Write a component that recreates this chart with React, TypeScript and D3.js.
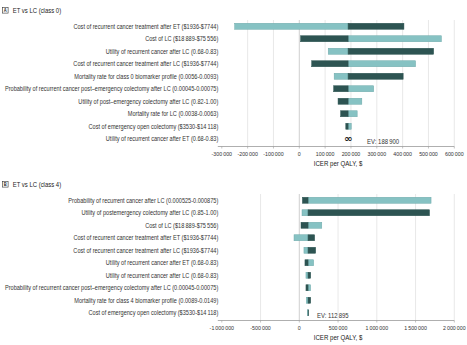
import { scaleBand, scaleLinear } from "d3";

// panel A: ET vs LC (class 0)
const labelsA = [
  "Cost of recurrent cancer treatment after ET ($1936-$7744)",
  "Cost of LC ($18\u2009889-$75\u2009556)",
  "Utility of recurrent cancer after LC (0.68-0.83)",
  "Cost of recurrent cancer treatment after LC ($1936-$7744)",
  "Mortality rate for class 0 biomarker profile (0.0056-0.0093)",
  "Probability of recurrent cancer post\u2013emergency colectomy after LC (0.00045-0.00075)",
  "Utility of post\u2013emergency colectomy after LC (0.82-1.00)",
  "Mortality rate for LC (0.0038-0.0063)",
  "Cost of emergency open colectomy ($3530-$14\u2009118)",
  "Utility of recurrent cancer after ET (0.68-0.83)",
];
// null = unbounded ICER, drawn as ∞
const lightA = [-250000, 550000, 112000, 450000, 135000, 288000, 242000, 224000, 201000, null];
const darkA = [405000, 5000, 520000, 48000, 402000, 133000, 150000, 160000, 180000, null];
const ticksA = [-300000, -200000, -100000, 0, 100000, 200000, 300000, 400000, 500000, 600000];
const evA = 188900;

// panel B: ET vs LC (class 4)
const labelsB = [
  "Probability of recurrent cancer after LC (0.000525-0.000875)",
  "Utility of postemergency colectomy after LC (0.85-1.00)",
  "Cost of LC ($18\u2009889-$75\u2009556)",
  "Cost of recurrent cancer treatment after ET ($1936-$7744)",
  "Cost of recurrent cancer treatment after LC ($1936-$7744)",
  "Utility of recurrent cancer after ET (0.68-0.83)",
  "Utility of recurrent cancer after LC (0.68-0.83)",
  "Probability of recurrent cancer post\u2013emergency colectomy after LC (0.00045-0.00075)",
  "Mortality rate for class 4 biomarker profile (0.0089-0.0149)",
  "Cost of emergency open colectomy ($3530-$14\u2009118)",
];
const lightB = [1700000, 35000, 290000, -68000, 60000, 185000, 86000, 146000, 90000, 105000];
const darkB = [40000, 1680000, 22000, 198000, 211000, 73000, 147000, 86000, 147000, 121000];
const ticksB = [-1000000, -500000, 0, 500000, 1000000, 1500000, 2000000];
const evB = 112895;

const LIGHT = "#86c2c3";
const LIGHT_STROKE = "#6ea9aa";
const DARK = "#2d5452";
const FONT = "'Liberation Sans', Arial, sans-serif";
const SQUEEZE = 0.85; // the source uses a condensed face; squeeze horizontally

// group digits with thin spaces, JAMA style (only for 5+ digits)
const fmt = (v: number) => {
  const s = Math.abs(v).toString();
  const g = s.length >= 5 ? s.replace(/\B(?=(\d{3})+(?!\d))/g, "\u2009") : s;
  return (v < 0 ? "-" : "") + g;
};

// condensed text helper
const T = ({ x, y, size, anchor = "start", weight = "normal", fill = "#333", children }: any) => (
  <text
    transform={`translate(${x},${y}) scale(${SQUEEZE},1)`}
    fontSize={size}
    fontWeight={weight}
    textAnchor={anchor}
    dominantBaseline="central"
    fontFamily={FONT}
    fill={fill}
  >
    {children}
  </text>
);

const Panel = ({ letter, title, top, labels, light, dark, ticks, ev, evDx }: any) => {
  const x0 = 221.8, x1 = 454.3;
  const rowTop = top + 20;
  const rowBottom = rowTop + 125;
  const axisY = rowBottom + 1.5;

  const x = scaleLinear().domain([ticks[0], ticks[ticks.length - 1]]).range([x0, x1]);
  const y = scaleBand<string>()
    .domain(labels)
    .range([rowTop, rowBottom])
    .paddingInner(0.52)
    .paddingOuter(0.26);
  const bw = y.bandwidth();

  return (
    <g>
      {/* panel heading */}
      <rect x={2.3} y={top + 7.3} width={5.8} height={5.8} fill="white" stroke="#333" strokeWidth={0.6} />
      <T x={5.2} y={top + 10.3} size={4.8} weight="bold" anchor="middle" fill="#222">{letter}</T>
      <T x={12.7} y={top + 10.6} size={7} fill="#222">{title}</T>

      {/* grid */}
      {ticks.slice(1).map((t: number) => (
        <line key={t} x1={x(t)} x2={x(t)} y1={rowTop} y2={axisY} stroke={t === 0 ? "#c4c4c4" : "#e2e2e2"} strokeWidth={0.8} />
      ))}
      <line x1={x0 - 4} x2={x1} y1={axisY} y2={axisY} stroke="#9a9a9a" strokeWidth={0.8} />
      {ticks.map((t: number) => (
        <g key={t}>
          <line x1={x(t)} x2={x(t)} y1={axisY} y2={axisY + 2} stroke="#9a9a9a" strokeWidth={0.6} />
          <T x={x(t)} y={axisY + 7} size={6.2} anchor="middle">{fmt(t)}</T>
        </g>
      ))}
      <T x={(x0 + x1) / 2} y={axisY + 17} size={7.2} anchor="middle" fill="#222">ICER per QALY, $</T>

      {/* category labels */}
      {labels.map((l: string) => (
        <T key={l} x={218.3} y={(y(l) as number) + bw / 2} size={6.6} anchor="end">{l}</T>
      ))}

      {/* bars */}
      {labels.map((l: string, i: number) => {
        const yy = y(l) as number;
        if (light[i] === null) {
          return (
            <text key={l} x={x(ev)} y={yy + bw / 2} fontSize={10} fontWeight="bold" textAnchor="middle" dominantBaseline="central" fontFamily="'DejaVu Sans', sans-serif" fill="#222">
              ∞
            </text>
          );
        }
        const segs = [
          { v: light[i], fill: LIGHT, stroke: LIGHT_STROKE },
          { v: dark[i], fill: DARK, stroke: DARK },
        ];
        return (
          <g key={l}>
            {segs.map((s, j) => (
              <rect
                key={j}
                x={Math.min(x(s.v), x(ev))}
                y={yy}
                width={Math.abs(x(s.v) - x(ev))}
                height={bw}
                fill={s.fill}
                stroke={s.stroke}
                strokeWidth={0.5}
              />
            ))}
          </g>
        );
      })}

      <T x={x(ev) + evDx} y={rowBottom - 3.5} size={7}>EV: {fmt(ev)}</T>
    </g>
  );
};

export default function App() {
  return (
    <svg width={467} height={345} style={{ position: "absolute", left: 0, top: 0, background: "white" }}>
      <Panel letter="A" title="ET vs LC (class 0)" top={0} labels={labelsA} light={lightA} dark={darkA} ticks={ticksA} ev={evA} evDx={19} />
      <Panel letter="B" title="ET vs LC (class 4)" top={174} labels={labelsB} light={lightB} dark={darkB} ticks={ticksB} ev={evB} evDx={9} />
    </svg>
  );
}
